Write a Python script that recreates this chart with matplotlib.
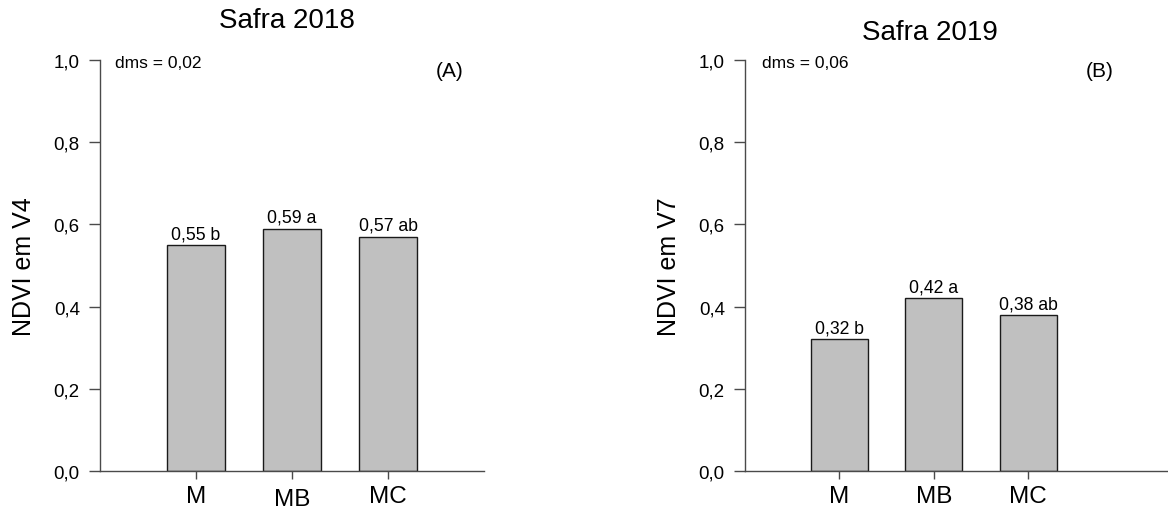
import numpy as np
import matplotlib
matplotlib.use('Agg')
import matplotlib.pyplot as plt
from matplotlib.transforms import ScaledTranslation

plt.rcParams['font.family'] = ['Liberation Sans', 'DejaVu Sans']

# Tratamentos e médias de NDVI por safra
tratamentos = ['M', 'MB', 'MC']
ndvi_2018 = [0.55, 0.59, 0.57]
letras_2018 = ['b', 'a', 'ab']
ndvi_2019 = [0.32, 0.42, 0.38]
letras_2019 = ['b', 'a', 'ab']
dms = [0.02, 0.06]
titulos = ['Safra 2018', 'Safra 2019']
ylabels = ['NDVI em V4', 'NDVI em V7']
paineis = ['(A)', '(B)']
yticks = [0.0, 0.2, 0.4, 0.6, 0.8, 1.0]

AXC = '#4a4a4a'

fig = plt.figure(figsize=(11.68, 5.10), dpi=100)
ax1 = fig.add_axes([0.0856, 0.0745, 0.3288, 0.8059])
ax2 = fig.add_axes([0.6378, 0.0745, 0.3622, 0.8059])


def fmt(v, nd):
    return f'{v:.{nd}f}'.replace('.', ',')


def painel(ax, vals, letras, d, titulo, ylab, tag, xmax, title_xy):
    x = np.arange(len(tratamentos))
    bars = ax.bar(x, vals, width=0.6, color='#c0c0c0', edgecolor='#1a1a1a',
                  linewidth=1.0, zorder=2)
    for b, v, l in zip(bars, vals, letras):
        ax.annotate(f'{fmt(v, 2)} {l}', (b.get_x() + b.get_width() / 2, v),
                    xytext=(0, 2), textcoords='offset points',
                    ha='center', va='bottom', fontsize=12.7)
    ax.set_xlim(-1, xmax)
    ax.set_ylim(0, 1.0)
    ax.set_yticks(yticks)
    ax.set_yticklabels([fmt(t, 1) for t in yticks], fontsize=13.5)
    ax.set_xticks(x)
    ax.set_xticklabels(tratamentos, fontsize=17.5)
    ax.tick_params(axis='y', length=8, width=1, color=AXC, pad=6.5)
    ax.tick_params(axis='x', length=6, width=1, color=AXC, pad=4)
    for s in ['top', 'right']:
        ax.spines[s].set_visible(False)
    for s in ['left', 'bottom']:
        ax.spines[s].set_color(AXC)
        ax.spines[s].set_linewidth(1.0)
    ax.set_ylabel(ylab, fontsize=18, labelpad=13)
    ax.text(0.04, 0.995, f'dms = {fmt(d, 2)}',
            transform=ax.transAxes, ha='left', va='center', fontsize=12.5)
    ax.text(tag[0], 0.975, tag[1], transform=ax.transAxes,
            ha='center', va='center', fontsize=15)
    ax.set_title(titulo, fontsize=20, x=title_xy[0], y=title_xy[1])


painel(ax1, ndvi_2018, letras_2018, dms[0], titulos[0], ylabels[0],
       (0.910, paineis[0]), 3.0, (0.487, 1.06))
painel(ax2, ndvi_2019, letras_2019, dms[1], titulos[1], ylabels[1],
       (0.839, paineis[1]), 3.48, (0.437, 1.03))

# rótulo MB do painel A levemente abaixo dos demais
lbl = ax1.get_xticklabels()[1]
lbl.set_transform(lbl.get_transform() + ScaledTranslation(0, -3 / 100, fig.dpi_scale_trans))

fig.savefig('out.png', dpi=100)
